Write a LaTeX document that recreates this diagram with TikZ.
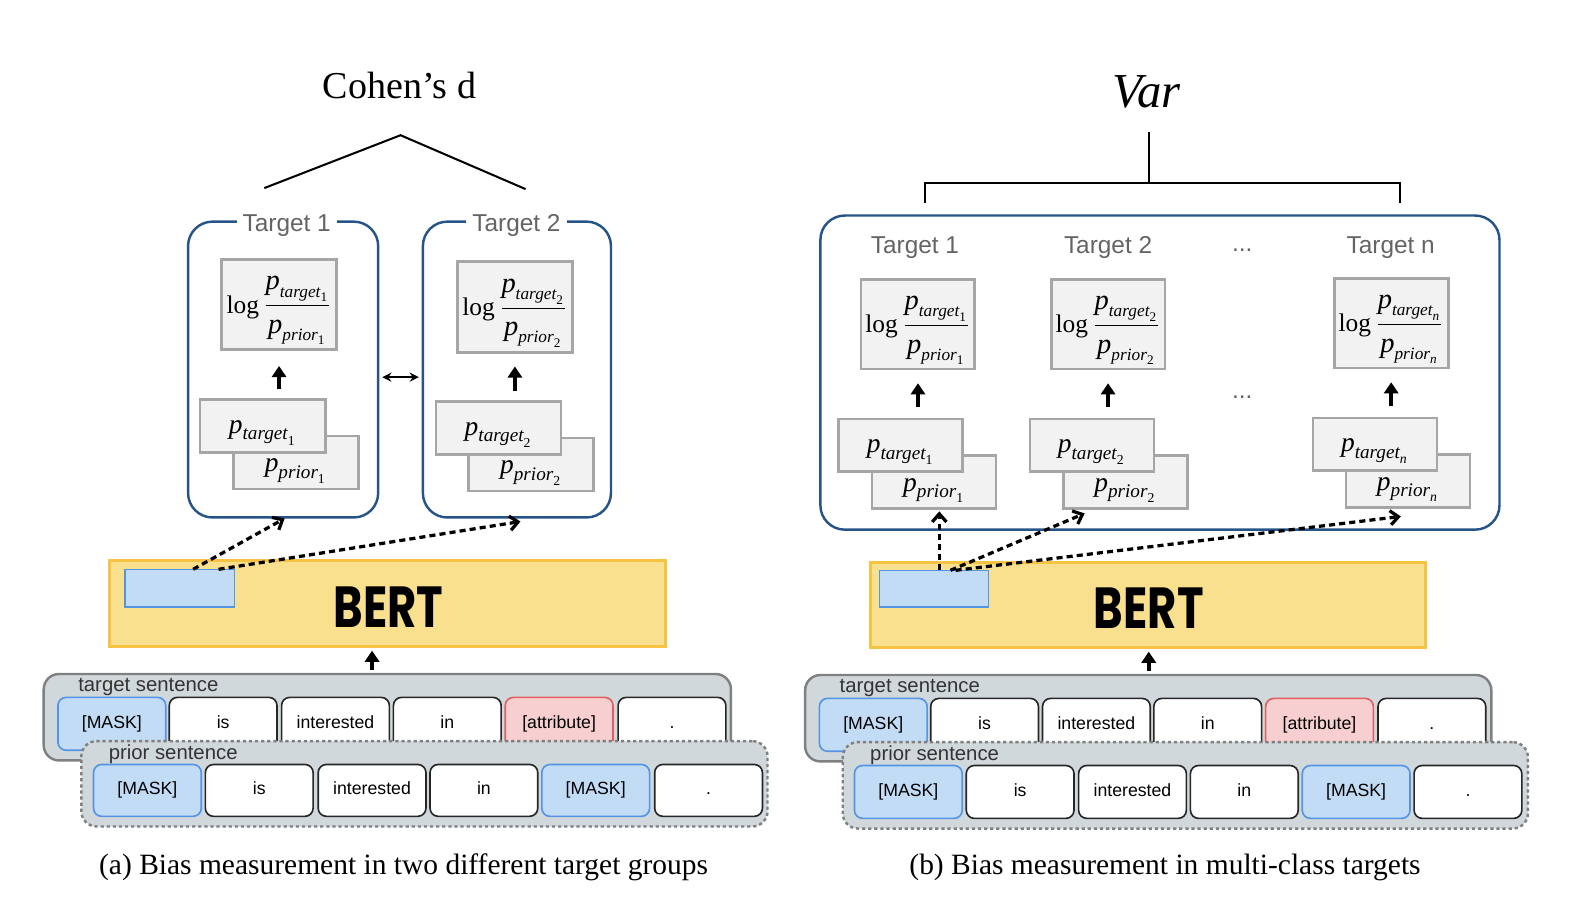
\documentclass[tikz,border=0pt]{standalone}
\usepackage{amsmath}
\usepackage{fontspec}
\setmainfont{Liberation Serif}
\newfontfamily\sansf{Liberation Sans}
\newfontfamily\bertf{Poppins}
\usetikzlibrary{arrows.meta,calc}
\DeclareMathSizes{14}{14}{8.5}{6.5}
\definecolor{cblue}{RGB}{38,84,136}
\definecolor{gfill}{RGB}{242,242,242}
\definecolor{gline}{RGB}{166,166,166}
\definecolor{bertfill}{RGB}{249,224,142}
\definecolor{bertline}{RGB}{247,195,67}
\definecolor{mfill}{RGB}{195,220,246}
\definecolor{mline}{RGB}{84,148,228}
\definecolor{afill}{RGB}{247,207,209}
\definecolor{aline}{RGB}{224,96,96}
\definecolor{sfill}{RGB}{209,216,220}
\definecolor{sline}{RGB}{128,128,128}
\definecolor{ttl}{RGB}{100,100,100}
\newcommand{\ptg}[1]{\textit{p}_{\textit{target}_{#1}}}
\newcommand{\ppr}[1]{\textit{p}_{\textit{prior}_{#1}}}
\newcommand{\logf}[1]{\fontsize{12.5}{14}\selectfont log\,{\fontsize{14}{16}\selectfont$\displaystyle\frac{\ptg{#1}}{\ppr{#1}\rule{0pt}{11pt}}$}}
\begin{document}
\begin{tikzpicture}[x=0.5pt,y=-0.5pt,
  every node/.style={inner sep=0pt,outer sep=0pt},
  container/.style={draw=cblue,line width=1.2pt,rounded corners=12pt},
  ttlnode/.style={font=\sansf\fontsize{12}{14}\selectfont,text=ttl},
  logbox/.style={draw=gline,fill=gfill,line width=1.4pt,minimum width=56.5pt,minimum height=44.5pt,text height=22.5pt,text depth=14pt},
  pbox/.style={draw=gline,fill=gfill,line width=1.2pt,minimum width=61.5pt,minimum height=26pt,font=\fontsize{13.5}{15}\selectfont},
  ptbox/.style={pbox,text height=11pt,text depth=4pt},
  ppbox/.style={pbox,text height=13pt,text depth=4pt},
  bertbox/.style={draw=bertline,fill=bertfill,line width=1.5pt,minimum height=42.5pt},
  maskrect/.style={draw=mline,fill=mfill,line width=0.6pt},
  berttext/.style={font=\bertf\bfseries},
  sentbox/.style={fill=sfill,draw=sline,line width=1.2pt,rounded corners=7.5pt,minimum width=338pt,minimum height=42.5pt},
  priorbox/.style={sentbox,dash pattern=on 1.6pt off 1.4pt},
  slabel/.style={anchor=west,font=\sansf\fontsize{10}{12}\selectfont,text=black!80},
  tok/.style={draw=black!85,fill=white,line width=0.8pt,rounded corners=4pt,minimum width=53pt,minimum height=26pt,text height=6.3pt,text depth=1.8pt,font=\sansf\fontsize{8.7}{10}\selectfont},
  masktok/.style={tok,draw=mline,fill=mfill},
  attrtok/.style={tok,draw=aline,fill=afill},
  uparrow/.style={line width=2pt,-{Triangle[length=5.5pt,width=7pt]}},
  dasharrow/.style={line width=1.6pt,dash pattern=on 3pt off 2pt,-{Straight Barb[length=4pt,width=7pt]}},
  bracket/.style={line width=1pt},
  caption/.style={font=\fontsize{14.5}{16}\selectfont}
]
\useasboundingbox (0,0) rectangle (1568,891.3);

% ================= LEFT PANEL =================
\node[font=\fontsize{18.7}{21}\selectfont] (cohen) at (393,84) {Cohen’s d};
\coordinate (cl) at (260,185);
\coordinate (ctop) at (394,133);
\coordinate (cr) at (517,186);
\draw[bracket] (cl) -- (ctop) -- (cr);

\node[container,minimum width=93.5pt,minimum height=145.5pt] (T1) at (278.5,363.5) {};
\node[container,minimum width=92.5pt,minimum height=145.5pt] (T2) at (508.5,363.5) {};
\node[ttlnode,fill=white,inner xsep=3pt,inner ysep=2pt] (T1t) at (282,221.5) {Target 1};
\node[ttlnode,fill=white,inner xsep=3pt,inner ysep=2pt] (T2t) at (508,221.5) {Target 2};

\node[logbox] (log1) at (274.5,299.5) {\logf{\textrm{1}}};
\node[logbox] (log2) at (506.5,302) {\logf{\textrm{2}}};

\node[ppbox] (pp1) at (291,455) {$\ppr{\textrm{1}}$};
\node[ptbox] (pt1) at (258.5,419) {$\ptg{\textrm{1}}$};
\node[ppbox] (pp2) at (522.5,457) {$\ppr{\textrm{2}}$};
\node[ptbox] (pt2) at (490.5,421) {$\ptg{\textrm{2}}$};

\draw[uparrow,shorten <=5pt,shorten >=8pt] (pt1.north -| log1.south) -- (log1.south);
\draw[uparrow,shorten <=5pt,shorten >=7pt] (pt2.north -| log2.south) -- (log2.south);

\draw[line width=1pt,{Stealth[length=4.5pt,width=4.5pt]}-{Stealth[length=4.5pt,width=4.5pt]},shorten <=2pt,shorten >=2pt]
  ($(T1.east)+(0,7.5)$) -- ($(T2.west)+(0,7.5)$);

\node[bertbox,minimum width=273.5pt] (BERT1) at (381.5,593.5) {};
\node[maskrect,minimum width=54pt,minimum height=18.5pt] (blue1) at (177,578.5) {};
\node[berttext] (bt1) at (382,597) {\resizebox{54pt}{20pt}{BERT}};

\draw[dasharrow] ($(blue1.north)+(13,0)$) -- ($(T1.south)+(1.5,1)$);
\draw[dasharrow] ($(blue1.north)+(38,0)$) -- ($(T2.south)+(3.5,4)$);

\node[sentbox] (tsent1) at (381,705.5) {};
\node[slabel] (tl1) at (77,676) {target sentence};
\node[masktok] (a1) at (110,712) {[MASK]};
\node[tok] (a2) at (219.5,712) {is};
\node[tok] (a3) at (330,712) {interested};
\node[tok] (a4) at (440,712) {in};
\node[attrtok] (a5) at (550,712) {[attribute]};
\node[tok] (a6) at (661,712) {.};

\node[priorbox,minimum width=337.5pt,minimum height=42pt] (psent1) at (417.5,771) {};
\node[slabel] (pl1) at (107,742) {prior sentence};
\node[masktok,minimum height=25.5pt] (b1) at (145,777.5) {[MASK]};
\node[tok,minimum height=25.5pt] (b2) at (255,777.5) {is};
\node[tok,minimum height=25.5pt] (b3) at (366,777.5) {interested};
\node[tok,minimum height=25.5pt] (b4) at (476,777.5) {in};
\node[masktok,minimum height=25.5pt] (b5) at (586,777.5) {[MASK]};
\node[tok,minimum height=25.5pt] (b6) at (697,777.5) {.};

\draw[uparrow,shorten <=2pt,shorten >=2pt] ($(tsent1.north)+(-15,0)$) -- ($(BERT1.south)+(-15.5,0)$);

\node[caption] (capa) at (397,853) {(a) Bias measurement in two different target groups};

% ================= RIGHT PANEL =================
\node[font=\fontsize{24}{26}\selectfont\itshape] (var) at (1128,90) {Var};
\coordinate (vtop) at (1130,130);
\coordinate (vmid) at (1130,180);
\coordinate (vl) at (910,180);
\coordinate (vr) at (1377,180);
\coordinate (vld) at (910,200);
\coordinate (vrd) at (1377,200);
\draw[bracket] (vtop) -- (vmid);
\draw[bracket] (vld) -- (vl) -- (vr) -- (vrd);

\node[container,minimum width=334pt,minimum height=154.5pt] (TR) at (1141,366.5) {};
\node[ttlnode] (TR1t) at (900,243.5) {Target 1};
\node[ttlnode] (TR2t) at (1090,243.5) {Target 2};
\node[ttlnode] (TRdt) at (1222,246) {...};
\node[ttlnode] (TRnt) at (1368,243.5) {Target n};

\node[logbox,minimum width=56pt,minimum height=44pt] (logR1) at (903,319) {\logf{\textrm{1}}};
\node[logbox,minimum width=56pt,minimum height=44pt] (logR2) at (1090,319) {\logf{\textrm{2}}};
\node[logbox,minimum width=56pt,minimum height=44pt] (logRn) at (1368.5,318) {\logf{\textit{n}}};

\node[ppbox,minimum width=61pt] (ppR1) at (919,474) {$\ppr{\textrm{1}}$};
\node[ptbox,minimum width=61pt] (ptR1) at (886,438) {$\ptg{\textrm{1}}$};
\node[ppbox,minimum width=61pt] (ppR2) at (1107,474) {$\ppr{\textrm{2}}$};
\node[ptbox,minimum width=61pt] (ptR2) at (1074,438) {$\ptg{\textrm{2}}$};
\node[ppbox,minimum width=61pt] (ppRn) at (1385,473) {$\ppr{\textit{n}}$};
\node[ptbox,minimum width=61pt] (ptRn) at (1352.5,437) {$\ptg{\textit{n}}$};
\node[ttlnode] (dots2) at (1222,391) {...};

\draw[uparrow,shorten <=6pt,shorten >=7pt] (ptR1.north -| logR1.south) -- (logR1.south);
\draw[uparrow,shorten <=6pt,shorten >=7pt] (ptR2.north -| logR2.south) -- (logR2.south);
\draw[uparrow,shorten <=6pt,shorten >=7pt] (ptRn.north -| logRn.south) -- (logRn.south);

\node[bertbox,minimum width=273pt,minimum height=42pt] (BERT2) at (1129,595) {};
\node[maskrect,minimum width=53.5pt,minimum height=18pt] (blue2) at (918.5,579) {};
\node[berttext] (bt2) at (1130,598) {\resizebox{54pt}{20pt}{BERT}};

\draw[dasharrow] ($(blue2.north)+(5.5,0)$) -- ($(ppR1.south)+(5,3)$);
\draw[dasharrow] ($(blue2.north)+(16.5,0)$) -- ($(ppR2.south)+(-40,5)$);
\draw[dasharrow] ($(blue2.north)+(21.5,0)$) -- ($(ppRn.south)+(-7,9)$);

\node[sentbox,minimum width=337.5pt] (tsent2) at (1129.5,706.5) {};
\node[slabel] (tl2) at (826,677) {target sentence};
\node[masktok] (c1) at (859,713) {[MASK]};
\node[tok] (c2) at (968.5,713) {is};
\node[tok] (c3) at (1078.5,713) {interested};
\node[tok] (c4) at (1188,713) {in};
\node[attrtok] (c5) at (1298,713) {[attribute]};
\node[tok] (c6) at (1408.5,713) {.};

\node[priorbox,minimum width=337pt] (psent2) at (1166,772.5) {};
\node[slabel] (pl2) at (856,743) {prior sentence};
\node[masktok] (d1) at (893.5,779) {[MASK]};
\node[tok] (d2) at (1003.5,779) {is};
\node[tok] (d3) at (1114,779) {interested};
\node[tok] (d4) at (1224,779) {in};
\node[masktok] (d5) at (1334,779) {[MASK]};
\node[tok] (d6) at (1444,779) {.};

\draw[uparrow,shorten <=2pt,shorten >=2pt] ($(tsent2.north)+(0.5,0)$) -- ($(BERT2.south)+(1,0)$);

\node[caption] (capb) at (1146,853) {(b) Bias measurement in multi-class targets};
\end{tikzpicture}
\end{document}
